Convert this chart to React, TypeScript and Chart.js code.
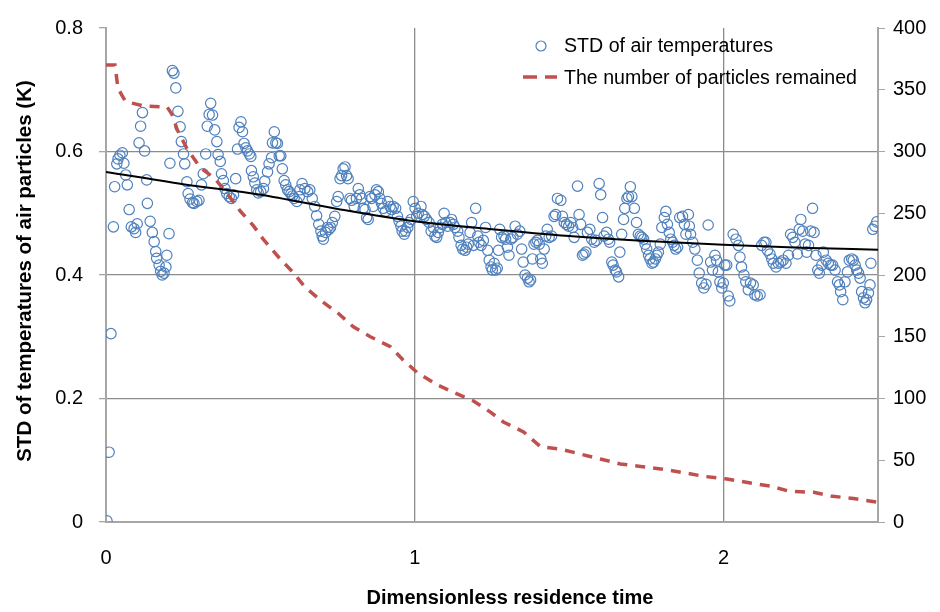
import React, { useEffect, useRef } from "react";
import { Chart, registerables } from "chart.js";

Chart.register(...registerables);

// ---- Data ----
const stdX = [
  0.003, 0.010, 0.016,
  0.024, 0.028, 0.035, 0.039, 0.045, 0.053, 0.058, 0.064, 0.069, 0.075, 0.082, 0.091, 0.096, 0.101, 0.107, 0.112, 0.118, 0.125,
  0.132, 0.134, 0.143, 0.150, 0.156, 0.161, 0.164, 0.172, 0.177, 0.182, 0.188, 0.194, 0.197, 0.204, 0.207, 0.215, 0.220, 0.226,
  0.233, 0.240, 0.244, 0.251, 0.255, 0.262, 0.266, 0.272, 0.280, 0.285, 0.294, 0.301, 0.309, 0.315, 0.323, 0.328, 0.334, 0.339,
  0.345, 0.352, 0.359, 0.363, 0.370, 0.374, 0.380, 0.385, 0.391, 0.399, 0.406, 0.413, 0.420, 0.426, 0.431, 0.437, 0.442, 0.447,
  0.453, 0.458, 0.464, 0.469, 0.471, 0.477, 0.482, 0.488, 0.493, 0.501, 0.510, 0.514, 0.523, 0.528, 0.536, 0.539, 0.545, 0.550,
  0.555, 0.561, 0.566, 0.571, 0.577, 0.582, 0.588, 0.593, 0.599, 0.604, 0.609, 0.618, 0.626,
  0.628, 0.635, 0.644, 0.653, 0.660, 0.668, 0.676, 0.682, 0.689, 0.696, 0.700, 0.704, 0.711, 0.717, 0.722, 0.727, 0.733, 0.741,
  0.747, 0.752, 0.758, 0.763, 0.768, 0.774, 0.779, 0.784, 0.790, 0.795, 0.804, 0.811, 0.817, 0.822, 0.828, 0.833, 0.839, 0.844,
  0.849, 0.855, 0.860, 0.865, 0.871, 0.876, 0.882, 0.887, 0.892, 0.898, 0.905, 0.912, 0.920, 0.925, 0.930, 0.938, 0.944, 0.949,
  0.955, 0.959, 0.966, 0.970, 0.977, 0.981, 0.988, 0.995, 1.001, 1.006, 1.011, 1.020, 1.024, 1.031, 1.038, 1.046, 1.053, 1.060,
  1.065, 1.071, 1.076, 1.082, 1.089, 1.095, 1.100, 1.106, 1.114, 1.119, 1.125, 1.130, 1.139, 1.143, 1.150, 1.155, 1.163, 1.168,
  1.173, 1.179, 1.184, 1.190, 1.197, 1.204, 1.208, 1.215, 1.222, 1.229, 1.236, 1.241, 1.247, 1.251,
  1.257, 1.262, 1.267, 1.271, 1.275, 1.281, 1.289, 1.294, 1.300, 1.305, 1.311, 1.318, 1.325, 1.332, 1.340, 1.346, 1.351, 1.357,
  1.365, 1.370, 1.375, 1.381, 1.386, 1.392, 1.397, 1.403, 1.408, 1.413, 1.419, 1.424, 1.429, 1.435, 1.443, 1.451, 1.456, 1.462,
  1.473, 1.478, 1.484, 1.491, 1.498, 1.505, 1.511, 1.516, 1.527, 1.532, 1.537, 1.543, 1.548, 1.554, 1.559, 1.567, 1.573, 1.581,
  1.588, 1.597, 1.602, 1.608, 1.613, 1.621, 1.627, 1.631, 1.638, 1.642, 1.649, 1.653, 1.660, 1.664, 1.670, 1.676, 1.680, 1.687,
  1.692, 1.698, 1.703, 1.711, 1.718, 1.724, 1.730, 1.735, 1.741, 1.746, 1.751, 1.757, 1.762, 1.768, 1.773, 1.779, 1.784, 1.789,
  1.795, 1.800, 1.808, 1.813, 1.818, 1.824, 1.829, 1.835, 1.840, 1.845, 1.851, 1.858, 1.867, 1.873, 1.878,
  1.886, 1.889, 1.893, 1.900, 1.907, 1.915, 1.921, 1.929, 1.936, 1.943, 1.950, 1.958, 1.964, 1.972, 1.977, 1.983, 1.988, 1.994,
  1.999, 2.004, 2.010, 2.015, 2.020, 2.031, 2.040, 2.048, 2.053, 2.058, 2.066, 2.072, 2.080, 2.087, 2.096, 2.101, 2.109, 2.118,
  2.123, 2.131, 2.137, 2.142, 2.150, 2.156, 2.161, 2.170, 2.177, 2.185, 2.193, 2.202, 2.210, 2.217, 2.224, 2.231, 2.239, 2.245,
  2.250, 2.256, 2.264, 2.269, 2.275, 2.282, 2.288, 2.293, 2.299, 2.305, 2.310, 2.318, 2.323, 2.332, 2.339, 2.347, 2.353, 2.361,
  2.369, 2.375, 2.379, 2.386, 2.393, 2.401, 2.407, 2.415, 2.420, 2.426, 2.431, 2.437, 2.442, 2.447, 2.453, 2.458, 2.463, 2.469,
  2.474, 2.477, 2.483, 2.490, 2.496,
];

const stdY = [
  0.002, 0.113, 0.305,
  0.478, 0.543, 0.580, 0.588, 0.594, 0.598, 0.581, 0.562, 0.546, 0.506, 0.478, 0.475, 0.469, 0.483, 0.614, 0.641, 0.663, 0.601,
  0.554, 0.516, 0.487, 0.469, 0.454, 0.438, 0.427, 0.416, 0.406, 0.400, 0.403, 0.413, 0.432, 0.467, 0.581, 0.731, 0.727, 0.703,
  0.665, 0.640, 0.616, 0.596, 0.580, 0.551, 0.532, 0.523, 0.517, 0.516, 0.519, 0.521, 0.546, 0.564, 0.596, 0.641, 0.660, 0.678,
  0.659, 0.635, 0.616, 0.595, 0.584, 0.564, 0.553, 0.540, 0.532, 0.527, 0.524, 0.530, 0.556, 0.604, 0.639, 0.648, 0.632, 0.613,
  0.606, 0.601, 0.596, 0.592, 0.569, 0.559, 0.549, 0.538, 0.533, 0.535, 0.540, 0.552, 0.567, 0.580, 0.590, 0.614, 0.632, 0.614,
  0.613, 0.593, 0.593, 0.572, 0.553, 0.546, 0.538, 0.535, 0.531, 0.528, 0.524, 0.519, 0.527,
  0.538, 0.548, 0.540, 0.535, 0.538, 0.524, 0.511, 0.496, 0.482, 0.471, 0.463, 0.458, 0.469, 0.477, 0.474, 0.477, 0.485, 0.495,
  0.519, 0.527, 0.556, 0.561, 0.572, 0.575, 0.561, 0.556, 0.524, 0.521, 0.511, 0.524, 0.540, 0.530, 0.524, 0.508, 0.506, 0.493,
  0.490, 0.527, 0.524, 0.511, 0.530, 0.538, 0.535, 0.524, 0.516, 0.508, 0.503, 0.519, 0.511, 0.506, 0.511, 0.508, 0.495, 0.487,
  0.479, 0.471, 0.466, 0.471, 0.477, 0.485, 0.490, 0.519, 0.508, 0.495, 0.500, 0.511, 0.498, 0.495, 0.490, 0.485, 0.471, 0.477,
  0.463, 0.461, 0.469, 0.477, 0.482, 0.500, 0.485, 0.479, 0.485, 0.490, 0.482, 0.477, 0.471, 0.461, 0.448, 0.442, 0.440, 0.445,
  0.450, 0.469, 0.485, 0.448, 0.508, 0.463, 0.453, 0.448, 0.456, 0.477, 0.440, 0.424, 0.413, 0.408,
  0.419, 0.408, 0.411, 0.440, 0.474, 0.461, 0.463, 0.458, 0.445, 0.432, 0.458, 0.461, 0.479, 0.466, 0.471, 0.442, 0.421, 0.400,
  0.395, 0.389, 0.392, 0.426, 0.450, 0.453, 0.456, 0.450, 0.426, 0.419, 0.442, 0.463, 0.474, 0.461, 0.463, 0.495, 0.498, 0.524,
  0.521, 0.495, 0.485, 0.482, 0.479, 0.485, 0.477, 0.461, 0.544, 0.498, 0.482, 0.432, 0.434, 0.437, 0.469, 0.474, 0.458, 0.453,
  0.456, 0.548, 0.530, 0.493, 0.463, 0.469, 0.458, 0.453, 0.421, 0.416, 0.408, 0.405, 0.397, 0.437, 0.466, 0.490, 0.508, 0.524,
  0.527, 0.543, 0.527, 0.508, 0.485, 0.466, 0.463, 0.461, 0.458, 0.450, 0.442, 0.432, 0.426, 0.419, 0.421, 0.426, 0.432, 0.437,
  0.450, 0.477, 0.493, 0.503, 0.482, 0.469, 0.458, 0.453, 0.448, 0.442, 0.445, 0.493, 0.495, 0.482, 0.466,
  0.498, 0.479, 0.466, 0.453, 0.442, 0.424, 0.403, 0.387, 0.379, 0.385, 0.481, 0.421, 0.408, 0.432, 0.424, 0.405, 0.389, 0.379,
  0.387, 0.416, 0.416, 0.366, 0.358, 0.466, 0.458, 0.448, 0.429, 0.413, 0.400, 0.389, 0.376, 0.387, 0.384, 0.368, 0.366, 0.368,
  0.448, 0.453, 0.453, 0.440, 0.434, 0.426, 0.419, 0.413, 0.419, 0.421, 0.424, 0.419, 0.432, 0.466, 0.461, 0.453, 0.434, 0.474,
  0.490, 0.471, 0.450, 0.437, 0.448, 0.471, 0.508, 0.469, 0.432, 0.408, 0.403, 0.416, 0.437, 0.424, 0.419, 0.416, 0.416, 0.408,
  0.389, 0.384, 0.373, 0.360, 0.389, 0.405, 0.424, 0.426, 0.424, 0.416, 0.408, 0.403, 0.395, 0.373, 0.363, 0.355, 0.360, 0.371,
  0.384, 0.419, 0.474, 0.479, 0.486,
];

const trendX = [0, 0.25, 0.5, 0.75, 1.0, 1.25, 1.5, 1.75, 2.0, 2.25, 2.5];
const trendY = [0.567, 0.547, 0.530, 0.507, 0.487, 0.474, 0.463, 0.455, 0.449, 0.444, 0.441];

const particlesX = [
  0.000, 0.029, 0.039, 0.062, 0.088, 0.120, 0.198, 0.214, 0.230, 0.263, 0.305, 0.353, 0.395, 0.434, 0.477, 0.509,
  0.564, 0.606, 0.645, 0.703, 0.752, 0.801, 0.856, 0.921, 0.963, 1.008, 1.073, 1.125, 1.190, 1.245, 1.287, 1.352,
  1.407, 1.472, 1.536, 1.601, 1.666, 1.731, 1.796, 1.870, 1.935, 2.006, 2.078, 2.152, 2.211, 2.292, 2.347, 2.421, 2.499,
];
const particlesN = [
  370, 370, 351, 341, 339, 337, 336, 330, 318, 302, 287, 278, 265, 252, 240, 229,
  213, 202, 190, 178, 169, 158, 150, 142, 131, 121, 111, 105, 98, 89, 81, 73,
  61, 59, 55, 51, 47, 45, 43, 40, 37, 35, 32, 29, 25, 24, 21, 19, 16,
];

const xTickValues = [0, 1, 2];
const leftTickValues = [0, 0.2, 0.4, 0.6, 0.8];
const rightTickValues = [0, 50, 100, 150, 200, 250, 300, 350, 400];

const seriesLabels = ["STD of air temperatures", "The number of particles remained"];
const xTitle = "Dimensionless residence time";
const yTitle = "STD of temperatures of air particles (K)";

const FONT = "'Liberation Sans', Arial, sans-serif";
const BLUE = "#4F81BD";
const RED = "#C0504D";
const GRID = "#8c8c8c";
const AXIS = "#a6a6a6";

const near = (a: number, b: number) => Math.abs(a - b) < 1e-6;

const overlayPlugin = {
  id: "overlay",
  afterDraw(chart: any) {
    const ctx = chart.ctx;
    ctx.save();
    // axis titles
    ctx.fillStyle = "#000";
    ctx.font = `bold 20px ${FONT}`;
    ctx.textAlign = "center";
    ctx.textBaseline = "middle";
    ctx.fillText(xTitle, 510, 598);
    ctx.save();
    ctx.translate(25, 271);
    ctx.rotate(-Math.PI / 2);
    ctx.font = `bold 20.5px ${FONT}`;
    ctx.fillText(yTitle, 0, 0);
    ctx.restore();
    // legend
    ctx.font = `19.6px ${FONT}`;
    ctx.textAlign = "left";
    ctx.beginPath();
    ctx.arc(541, 46, 5, 0, Math.PI * 2);
    ctx.strokeStyle = BLUE;
    ctx.lineWidth = 1.2;
    ctx.stroke();
    ctx.fillText(seriesLabels[0], 564, 47);
    ctx.strokeStyle = RED;
    ctx.lineWidth = 3.5;
    ctx.lineCap = "butt";
    ctx.beginPath();
    ctx.moveTo(523, 77);
    ctx.lineTo(537, 77);
    ctx.moveTo(545, 77);
    ctx.lineTo(557, 77);
    ctx.stroke();
    ctx.fillText(seriesLabels[1], 564, 79);
    ctx.restore();
  },
};

export default function App() {
  const ref = useRef<HTMLCanvasElement | null>(null);

  useEffect(() => {
    if (!ref.current) return;
    const chart = new Chart(ref.current, {
      type: "scatter",
      data: {
        datasets: [
          {
            label: "trend",
            data: trendX.map((x, i) => ({ x, y: trendY[i] })),
            showLine: true,
            borderColor: "#000",
            borderWidth: 2,
            pointRadius: 0,
            cubicInterpolationMode: "monotone",
            yAxisID: "y",
          } as any,
          {
            label: seriesLabels[1],
            data: particlesX.map((x, i) => ({ x, y: particlesN[i] })),
            showLine: true,
            borderColor: RED,
            borderWidth: 3.5,
            borderDash: [10, 8],
            borderCapStyle: "butt",
            pointRadius: 0,
            yAxisID: "y1",
          } as any,
          {
            label: seriesLabels[0],
            data: stdX.map((x, i) => ({ x, y: stdY[i] })),
            showLine: false,
            pointStyle: "circle",
            pointRadius: 5.2,
            pointBorderWidth: 1.2,
            pointBorderColor: BLUE,
            pointBackgroundColor: "rgba(255,255,255,0)",
            borderColor: BLUE,
            backgroundColor: "rgba(255,255,255,0)",
            yAxisID: "y",
          } as any,
        ],
      },
      options: {
        animation: false,
        responsive: false,
        layout: { padding: { top: 18, left: 0, right: 0, bottom: 0 } },
        plugins: {
          legend: { display: false },
          tooltip: { enabled: false },
        },
        scales: {
          x: {
            type: "linear",
            position: "bottom",
            min: 0,
            max: 2.5,
            afterBuildTicks: (s: any) => {
              s.ticks = xTickValues.map((v) => ({ value: v }));
            },
            afterFit: (s: any) => {
              s.height = 90;
            },
            ticks: {
              color: "#000",
              font: { family: FONT, size: 20 },
              padding: 24,
              maxRotation: 0,
              callback: (v: any) => String(v),
            },
            grid: {
              color: (c: any) => (c.tick && near(c.tick.value, 0) ? "rgba(0,0,0,0)" : GRID),
              lineWidth: 1.3,
              drawTicks: false,
            },
            border: { display: true, color: AXIS, width: 2 },
          },
          y: {
            type: "linear",
            position: "left",
            min: 0,
            max: 0.8,
            afterBuildTicks: (s: any) => {
              s.ticks = leftTickValues.map((v) => ({ value: v }));
            },
            afterFit: (s: any) => {
              s.width = 106;
            },
            ticks: {
              color: "#000",
              font: { family: FONT, size: 20 },
              padding: 16,
              callback: (v: any) => String(Number(Number(v).toFixed(1))),
            },
            grid: {
              color: (c: any) =>
                c.tick && (near(c.tick.value, 0) || near(c.tick.value, 0.8)) ? "rgba(0,0,0,0)" : GRID,
              tickColor: AXIS,
              tickLength: 7,
              lineWidth: 1.3,
            },
            border: { display: true, color: AXIS, width: 2 },
          },
          y1: {
            type: "linear",
            position: "right",
            min: 0,
            max: 400,
            afterBuildTicks: (s: any) => {
              s.ticks = rightTickValues.map((v) => ({ value: v }));
            },
            afterFit: (s: any) => {
              s.width = 62;
            },
            ticks: {
              color: "#000",
              font: { family: FONT, size: 20 },
              padding: 8,
              callback: (v: any) => String(v),
            },
            grid: {
              drawOnChartArea: false,
              tickColor: AXIS,
              tickLength: 7,
            },
            border: { display: true, color: AXIS, width: 2 },
          },
        },
      } as any,
      plugins: [overlayPlugin],
    });
    return () => chart.destroy();
  }, []);

  return (
    <div style={{ position: "fixed", left: 0, top: 0, width: 940, height: 612, background: "#fff" }}>
      <canvas ref={ref} width={940} height={612} style={{ display: "block" }} />
    </div>
  );
}
